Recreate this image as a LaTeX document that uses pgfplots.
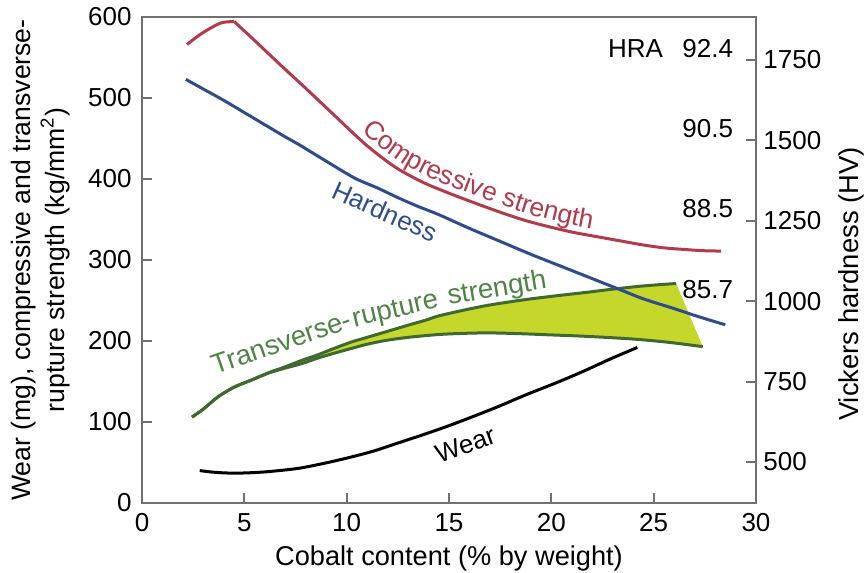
\documentclass[border=0pt]{standalone}
\usepackage{fontspec}
\setmainfont{Liberation Sans}
\usepackage{pgfplots}
\usepackage{pgfplotstable}
\pgfplotsset{compat=1.18}
\usetikzlibrary{decorations.text}
\definecolor{cred}{HTML}{B23A4A}
\definecolor{cblue}{HTML}{2C4C8C}
\definecolor{cgreen}{HTML}{3E6A30}
\definecolor{ctgreen}{HTML}{4F8446}
\definecolor{cfill}{HTML}{C6D72C}
\definecolor{caxis}{HTML}{707070}
\pgfplotstableread{
x y
2.44 106
3.0 116
3.71 131
4.5 143
5.37 152
6.2 161
6.99 168
7.8 176
8.6 183
9.4 191
10.26 199
11.0 204.5
11.87 211
13.0 219.5
13.9 226
14.5 231
15.8 238.5
17 244.5
18.7 251
20.3 256
21.7 260
23 264
24.5 268
26.1 271
}\uppertab
\pgfplotstableread{
x y
2.44 106
3.0 116
3.71 131
4.5 143
5.37 152
6.2 160.5
6.99 166.5
7.8 172
8.6 179
9.4 185
10.26 191
11.0 196
11.87 200.5
13.0 204.5
14.5 208
15.8 209.5
17 210
18.5 209
20 207.5
21.5 206
23 204
24.2 202
25.5 199
26.5 196
27.4 193
}\lowertab
\begin{document}
\begin{tikzpicture}[font=\fontsize{13}{15}\selectfont]
\useasboundingbox (-71pt,-35pt) rectangle (361pt,251.5pt);
\begin{axis}[
  scale only axis, width=307pt, height=243pt,
  xmin=0, xmax=30, ymin=0, ymax=600,
  xtick={0,5,...,30}, ytick={0,100,...,600},
  tick align=inside, xtick pos=bottom, ytick pos=left,
  major tick length=5pt,
  axis line style={draw=caxis, line width=1pt},
  tick style={caxis, line width=1pt},
  /pgf/number format/assume math mode=true,
  ticklabel style={font=\fontsize{13}{15}\selectfont},
  xticklabel style={anchor=north, inner sep=0pt, yshift=-5pt},
  yticklabel style={anchor=east, inner sep=0pt, xshift=-5pt},
  xlabel={Cobalt content (\% by weight)},
  xlabel style={font=\fontsize{13.6}{16}\selectfont, at={(rel axis cs:0.5,0)}, anchor=base, yshift=-31.5pt},
  ylabel={Wear (mg), compressive and transverse-\\rupture strength (kg/mm\textsuperscript{2})},
  ylabel style={align=center, font=\fontsize{13.3}{17}\selectfont, inner sep=0pt,
    at={([xshift=-36pt]rel axis cs:0,0.5)}, anchor=south},
  clip=false,
]
% transverse-rupture band
\addplot[draw=none, fill=cfill] coordinates {
 (2.44,106) (3.0,116) (3.71,131) (4.5,143) (5.37,152) (6.2,161) (6.99,168) (7.8,176) (8.6,183) (9.4,191) (10.26,199) (11.0,204.5) (11.87,211) (13.0,219.5) (13.9,226) (14.5,231) (15.8,238.5) (17,244.5) (18.7,251) (20.3,256) (21.7,260) (23,264) (24.5,268) (26.1,271)
 (27.4,193) (26.5,196) (25.5,199) (24.2,202) (23,204) (21.5,206) (20,207.5) (18.5,209) (17,210) (15.8,209.5) (14.5,208) (13.0,204.5) (11.87,200.5) (11.0,196) (10.26,191) (9.4,185) (8.6,179) (7.8,172) (6.99,166.5) (6.2,160.5) (5.37,152) (4.5,143) (3.71,131) (3.0,116) (2.44,106)
};
\addplot[cgreen, line width=1.5pt, smooth] table {\uppertab};
\addplot[cgreen, line width=1.5pt, smooth] table {\lowertab};
% compressive strength
\addplot[cred, line width=1.5pt, smooth] coordinates {
 (2.2,566) (2.6,574) (3.0,581) (3.4,587) (3.7,591) (4.0,593.5) (4.5,594.5)
};
\addplot[cred, line width=1.5pt, smooth] coordinates {
 (4.5,594.5) (5.5,571) (6.8,540) (8,512) (9.3,481) (10.3,457) (11.0,441) (11.8,425) (12.6,411) (13.8,395) (15.05,382) (16.3,370) (17.5,359) (18.7,349) (19.9,341) (21.1,334) (22.4,328) (23.5,323) (24.5,318.5) (25.5,315) (26.5,313) (27.4,311.5) (28.3,311)
};
% hardness
\addplot[cblue, line width=1.5pt, smooth] coordinates {
 (2.14,523) (3,511) (4,497) (5,482) (6,467) (7,452) (7.7,442) (9,422) (10.4,401) (11.5,389) (12.5,377) (13.5,366) (14.5,356) (16,339) (17.5,323) (19,307) (20.5,292) (22,277) (23.3,264) (24.5,252) (26,240) (27.2,230) (28.5,220)
};
% wear
\addplot[black, line width=1.5pt, smooth] coordinates {
 (2.82,40) (3.5,38) (4.2,37) (4.9,37) (5.8,38) (6.7,40) (7.7,43) (8.9,49) (10.1,56) (11.3,64) (12.5,74) (13.7,84) (14.95,95) (16.2,107) (17.4,119) (18.8,134) (20.3,149) (21.6,163) (22.9,178) (24.2,192)
};
\path[decorate, decoration={text along path, text align=left, raise=3.5pt,
   text={|\fontsize{13.2}{15}\selectfont\color{cred}|Compressive strength}}]
   plot[smooth] coordinates {(10.5,452) (11.0,441) (11.8,425) (12.6,411) (13.8,395) (15.05,382) (16.3,370) (17.5,359) (18.7,349) (19.9,341) (21.1,334) (22.4,328) (23.5,323) (24.5,318.5) (25.5,315) (26.5,313) (27.4,311.5) (28.3,311)};
\node[ctgreen, rotate=19, anchor=base west, inner sep=0pt, font=\fontsize{13.8}{15}\selectfont] (t1) at (axis cs:3.57,158) {Transverse-};
\node[ctgreen, rotate=13, anchor=base west, inner sep=0pt, font=\fontsize{13.8}{15}\selectfont] at (t1.base east) {rupture};
\node[ctgreen, rotate=9.5, anchor=base east, inner sep=0pt, font=\fontsize{13.8}{15}\selectfont] at (axis cs:19.83,265) {strength};
\node[cblue, rotate=-24] at (axis cs:11.87,360) {Hardness};
\node[black, rotate=20] at (axis cs:15.8,71.5) {Wear};
\end{axis}
\begin{axis}[
  scale only axis, width=307pt, height=243pt,
  xmin=0, xmax=30, ymin=372.5, ymax=1883.7,
  axis x line=none, axis y line*=right,
  ytick={500,750,1000,1250,1500,1750},
  tick align=inside, major tick length=5pt,
  axis line style={draw=caxis, line width=1pt},
  tick style={caxis, line width=1pt},
  /pgf/number format/assume math mode=true,
  /pgf/number format/1000 sep={},
  ticklabel style={font=\fontsize{13}{15}\selectfont},
  yticklabel style={anchor=west, inner sep=0pt, xshift=3.5pt},
  ylabel={Vickers hardness (HV)},
  ylabel style={font=\fontsize{13.7}{16}\selectfont, inner sep=0pt, rotate=0,
    at={([xshift=41pt,yshift=-12pt]rel axis cs:1,0.5)}, anchor=north},
  clip=false,
]
\node[anchor=base east] at (axis cs:29.22,1759) {92.4};
\node[anchor=base east] at (axis cs:25.8,1759) {HRA};
\node[anchor=base east] at (axis cs:29.22,1509) {90.5};
\node[anchor=base east] at (axis cs:29.22,1259) {88.5};
\node[anchor=base east] at (axis cs:29.22,1009) {85.7};
\end{axis}
\end{tikzpicture}
\end{document}
